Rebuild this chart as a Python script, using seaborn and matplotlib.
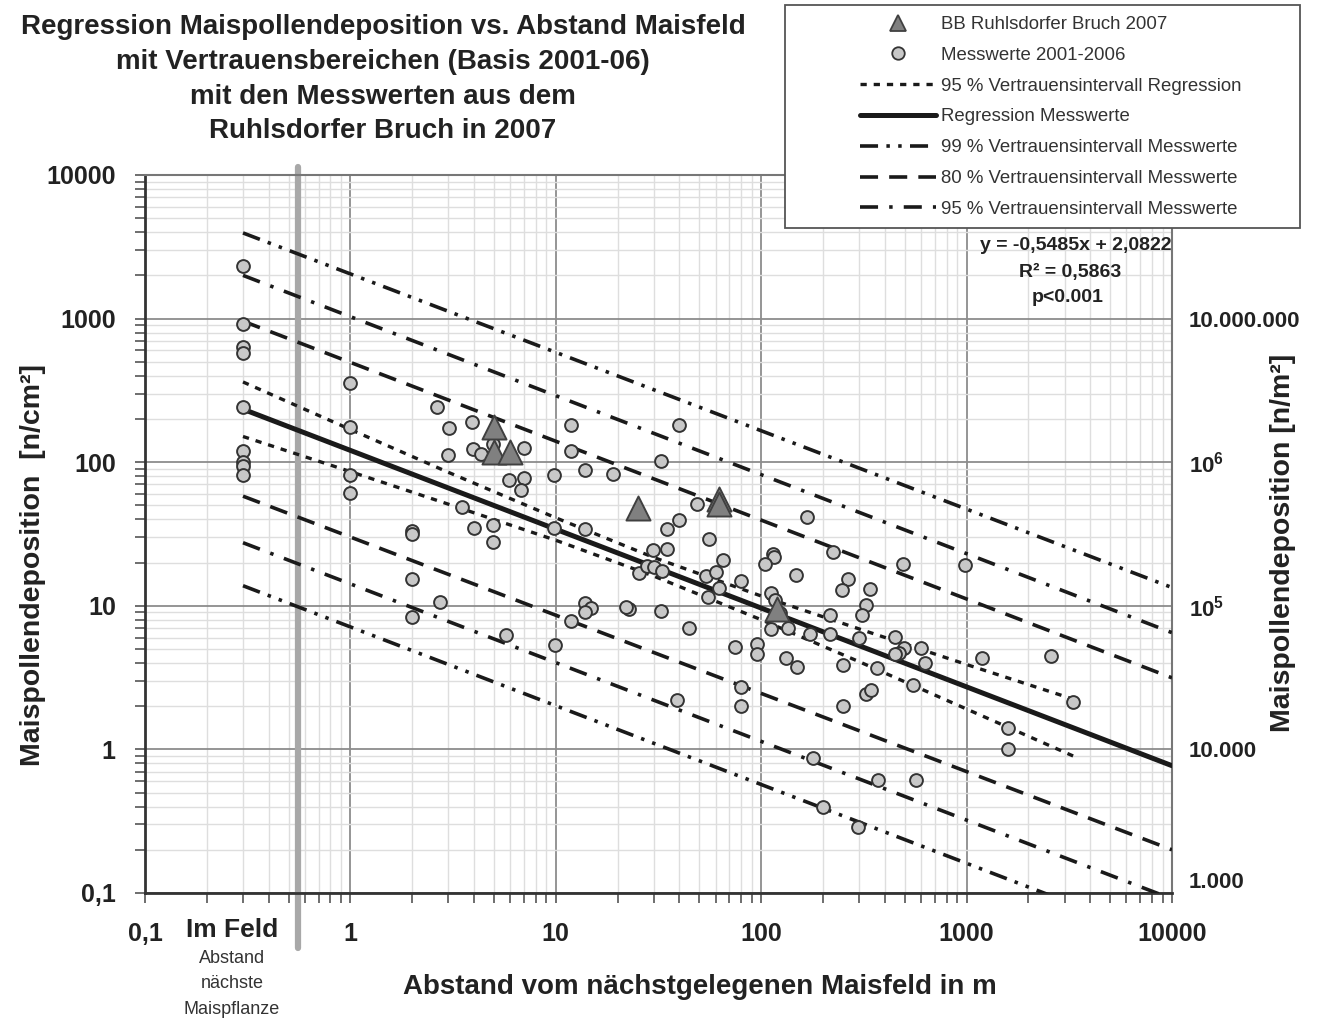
import matplotlib
matplotlib.use('Agg')
import matplotlib.pyplot as plt
import seaborn as sns
from matplotlib.lines import Line2D
from matplotlib.patches import Rectangle
from matplotlib.ticker import LogLocator, NullLocator, NullFormatter

# --- data (n/cm², distance in m) ---
circle_x = [0.3, 0.3, 0.3, 0.3, 0.3, 0.3, 0.3, 0.3, 0.3,
            1, 1, 1, 1,
            2, 2, 2, 2,
            2.64, 3.02, 3.9, 2.98, 3.95, 4.3, 4.94, 6.98, 5.9, 6.98, 6.77, 9.77, 3.5,
            2.74, 4.0, 4.95, 4.95, 9.8, 13.8, 13.8, 11.8, 13.8, 14.9, 13.8, 11.8, 5.75, 9.9,
            11.8, 18.9, 39.8, 32.7, 48.9, 39.8, 34.7, 55.7, 65.2, 34.7, 29.8,
            168, 114, 116, 104, 148, 224, 492, 266, 248, 339, 322, 310,
            25.3, 27.7, 29.9, 33, 54.1, 60.3, 62.6, 54.9, 79.5, 111, 117, 124, 135, 111,
            173, 216, 216, 299, 447, 495, 468, 447, 597, 625, 250, 367, 550, 322, 341,
            251, 150, 132, 95, 95, 74.3, 44.5, 32.7, 22.7, 22, 79.5, 80, 39,
            980, 1186, 2583, 3290, 1596, 1596, 178, 201, 369, 295, 565]
circle_y = [2335, 916, 634, 575, 242, 120, 100, 94, 82,
            357, 176, 82, 61,
            33, 31.5, 15.4, 8.4,
            242, 173, 190, 112, 124, 114, 134, 126, 75, 78, 64, 82, 49,
            10.6, 34.6, 36.6, 28, 34.7, 34.1, 88, 120, 10.4, 9.7, 9.1, 7.8, 6.3, 5.3,
            182, 83, 182, 102, 51, 39.5, 34.3, 29, 20.7, 25, 24.3,
            41.7, 22.8, 22, 19.5, 16.4, 23.8, 19.5, 15.3, 12.9, 13.1, 10.1, 8.6,
            16.8, 18.9, 18.7, 17.5, 16.1, 17.3, 13.4, 11.6, 15, 12.2, 11, 8.9, 7.0, 6.9,
            6.4, 8.6, 6.4, 6.0, 6.1, 5.06, 4.67, 4.6, 5.1, 4.0, 3.87, 3.67, 2.81, 2.42, 2.6,
            2.0, 3.77, 4.3, 5.4, 4.6, 5.2, 7.0, 9.2, 9.5, 9.8, 2.73, 2.0, 2.2,
            19.2, 4.3, 4.5, 2.15, 1.4, 1.0, 0.87, 0.40, 0.61, 0.29, 0.61]

tri_x = [5, 5, 6, 25, 62, 62, 120]
tri_y = [175, 118, 118, 48, 55, 51, 9.5]

# straight lines: values at both ends (x = 0.3 and x = 10000)
line_x = [0.3, 10000]
reg_y = [234, 0.77]
up80_y = [960, 3.15]
lo80_y = [58, 0.20]
up95_y = [2000, 6.5]
lo95_y = [27.5, 0.091]
up99_y = [3950, 13.4]
lo99_y = [13.8, 0.0455]

# 95 % confidence band of the regression (curved)
ci_x = [0.3, 1, 3, 10, 30, 100, 300, 1000, 3300]
ci_up = [362, 169, 85, 41, 21.7, 11.7, 6.9, 3.9, 2.24]
ci_lo = [151, 86, 51, 28.6, 16.1, 8.0, 4.08, 1.91, 0.90]

x_ticks = [0.1, 1, 10, 100, 1000, 10000]
tick_labels = ['0,1', '1', '10', '100', '1000', '10000']
right_ticks = [1e3, 1e4, 1e5, 1e6, 1e7]
right_labels = ['1.000', '10.000', r'$\mathbf{10^5}$', r'$\mathbf{10^6}$', '10.000.000']

legend_labels = ['BB Ruhlsdorfer Bruch 2007', 'Messwerte 2001-2006',
                 '95 % Vertrauensintervall Regression', 'Regression Messwerte',
                 '99 % Vertrauensintervall Messwerte', '80 % Vertrauensintervall Messwerte',
                 '95 % Vertrauensintervall Messwerte']

sns.set_theme(style='white')
plt.rcParams['font.family'] = ['Liberation Sans', 'DejaVu Sans']
plt.rcParams['mathtext.fontset'] = 'custom'
plt.rcParams['mathtext.rm'] = 'Liberation Sans'
plt.rcParams['mathtext.bf'] = 'Liberation Sans:bold'
plt.rcParams['lines.scale_dashes'] = False

W, H = 1321, 1019
fig = plt.figure(figsize=(W / 100, H / 100), dpi=100)
ax = fig.add_axes([145 / W, 126 / H, 1027 / W, 718 / H])
ax.set_xscale('log')
ax.set_yscale('log')
ax.set_xlim(0.1, 10000)
ax.set_ylim(0.1, 10000)

ls80 = (0, (13, 8))
ls95 = (0, (13, 8, 2.5, 8))
ls99 = (0, (13, 6, 2.5, 6, 2.5, 6))
lsci = (0, (4.5, 5))

for ys, ls in [(up99_y, ls99), (lo99_y, ls99), (up95_y, ls95), (lo95_y, ls95),
               (up80_y, ls80), (lo80_y, ls80)]:
    sns.lineplot(x=line_x, y=ys, ax=ax, color='#1a1a1a', lw=2.6, linestyle=ls, zorder=3)
sns.lineplot(x=ci_x, y=ci_up, ax=ax, color='#1a1a1a', lw=2.4, linestyle=lsci, zorder=3)
sns.lineplot(x=ci_x, y=ci_lo, ax=ax, color='#1a1a1a', lw=2.4, linestyle=lsci, zorder=3)
sns.lineplot(x=line_x, y=reg_y, ax=ax, color='#1a1a1a', lw=3.6, zorder=3)

sns.scatterplot(x=circle_x, y=circle_y, ax=ax, s=85, color='#c8c8c8',
                edgecolor='#333333', linewidth=1.4, zorder=4, legend=False)
sns.scatterplot(x=tri_x, y=tri_y, ax=ax, marker='^', s=300, color='#808080',
                edgecolor='#404040', linewidth=1.4, zorder=5, legend=False)

# field boundary marker
ax.axvline(0.555, ymin=-0.077, ymax=1.011, color='#a8a8a8', lw=4.5, clip_on=False, zorder=2)

# grid and ticks
ax.xaxis.set_minor_locator(LogLocator(base=10, subs=range(2, 10), numticks=20))
ax.yaxis.set_minor_locator(LogLocator(base=10, subs=range(2, 10), numticks=20))
ax.xaxis.set_minor_formatter(NullFormatter())
ax.yaxis.set_minor_formatter(NullFormatter())
ax.grid(True, which='major', color='#8c8c8c', lw=1.3)
ax.grid(True, which='minor', color='#dedede', lw=1.0)
ax.set_axisbelow(True)
ax.set_xticks(x_ticks)
ax.set_xticklabels(tick_labels, fontsize=18, fontweight='bold', color='#222222')
ax.set_yticks(x_ticks)
ax.set_yticklabels(tick_labels, fontsize=18, fontweight='bold', color='#222222')
ax.tick_params(which='both', direction='out', length=7, width=1.2, color='#555555',
               bottom=True, left=True)
ax.tick_params(axis='x', which='major', pad=14)
ax.tick_params(axis='y', which='major', pad=14)
ax.set_xlabel('')
ax.set_ylabel('')
for side in ['left', 'bottom']:
    ax.spines[side].set_color('#333333')
    ax.spines[side].set_linewidth(2)
for side in ['top', 'right']:
    ax.spines[side].set_color('#777777')
    ax.spines[side].set_linewidth(1.5)

ax2 = ax.twinx()
ax2.set_yscale('log')
ax2.set_ylim(1e3, 1e8)
ax2.set_yticks(right_ticks)
ax2.set_yticklabels(right_labels, fontsize=16, fontweight='bold', color='#222222')
ax2.yaxis.set_minor_locator(NullLocator())
ax2.tick_params(axis='y', length=0, pad=12)
ax2.grid(False)
for side in ax2.spines:
    ax2.spines[side].set_visible(False)
# lowest right label sits just above the axis line
ax2.get_yticklabels()[0].set_va('bottom')

# texts
title_lines = ['Regression Maispollendeposition vs. Abstand Maisfeld',
               'mit Vertrauensbereichen (Basis 2001-06)',
               'mit den Messwerten aus dem',
               'Ruhlsdorfer Bruch in 2007']
for t, yy in zip(title_lines, [27, 62, 97, 131]):
    fig.text(383 / W, 1 - yy / H, t, ha='center', va='center', fontsize=20,
             fontweight='bold', color='#222222')

fig.text(33 / W, 1 - 565 / H, 'Maispollendeposition  [n/cm²]', rotation=90,
         ha='center', va='center', fontsize=20.5, fontweight='bold', color='#222222')
fig.text(1283 / W, 1 - 543 / H, 'Maispollendeposition [n/m²]', rotation=90,
         ha='center', va='center', fontsize=20.5, fontweight='bold', color='#222222')
fig.text(700 / W, 1 - 987 / H, 'Abstand vom nächstgelegenen Maisfeld in m',
         ha='center', va='center', fontsize=20, fontweight='bold', color='#222222')
fig.text(232 / W, 1 - 930 / H, 'Im Feld', ha='center', va='center', fontsize=19,
         fontweight='bold', color='#222222')
fig.text(232 / W, 1 - 984 / H, 'Abstand\nnächste\nMaispflanze', ha='center',
         va='center', fontsize=13, color='#333333', linespacing=1.65)

fig.text(1076 / W, 1 - 246 / H, 'y = -0,5485x + 2,0822', ha='center', va='center',
         fontsize=14, fontweight='bold', color='#222222')
fig.text(1070 / W, 1 - 272 / H, 'R² = 0,5863', ha='center', va='center',
         fontsize=14, fontweight='bold', color='#222222')
fig.text(1068 / W, 1 - 298 / H, 'p<0.001', ha='center', va='center',
         fontsize=14, fontweight='bold', color='#222222')

# legend in a boxed area over the top-right
box = Rectangle((785 / W, 1 - 228 / H), 515 / W, 223 / H, transform=fig.transFigure,
                facecolor='white', edgecolor='#555555', lw=1.3, zorder=3)
fig.add_artist(box)
handles = [
    Line2D([], [], marker='^', ls='none', ms=11, mfc='#808080', mec='#404040', mew=1.3),
    Line2D([], [], marker='o', ls='none', ms=9, mfc='#c8c8c8', mec='#333333', mew=1.3),
    Line2D([], [], color='#1a1a1a', lw=2.4, linestyle=lsci),
    Line2D([], [], color='#1a1a1a', lw=3.6),
    Line2D([], [], color='#1a1a1a', lw=2.6, linestyle=ls99),
    Line2D([], [], color='#1a1a1a', lw=2.6, linestyle=ls80),
    Line2D([], [], color='#1a1a1a', lw=2.6, linestyle=ls95),
]
leg = fig.legend(handles, legend_labels, loc='upper left',
                 bbox_to_anchor=(860 / W, 1 - 16 / H), frameon=False, fontsize=13.4,
                 handlelength=4.1, handletextpad=0.27, labelspacing=0.74,
                 borderpad=0, borderaxespad=0, labelcolor='#333333')
leg.set_zorder(5)

fig.savefig('out.png', dpi=100)
